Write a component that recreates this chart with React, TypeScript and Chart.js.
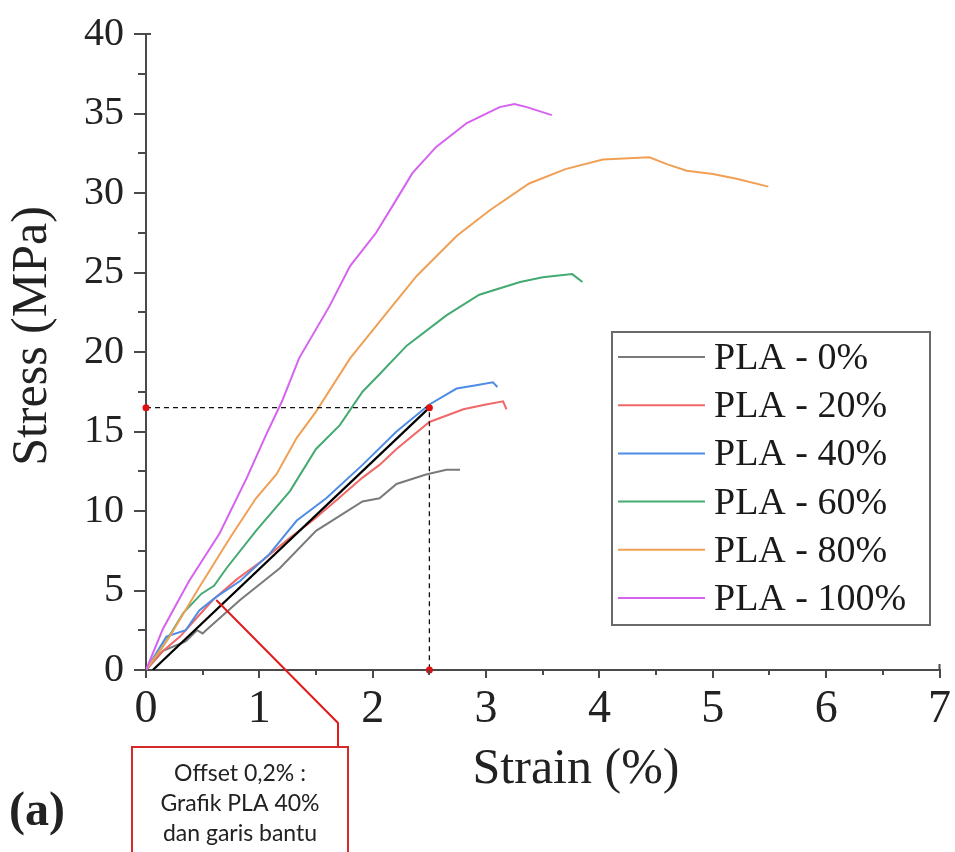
import React, { useEffect, useRef } from "react";
import { Chart, registerables } from "chart.js";

Chart.register(...registerables);

// ---------- data (strain %, stress MPa) ----------
const seriesLabels = ["PLA - 0%", "PLA - 20%", "PLA - 40%", "PLA - 60%", "PLA - 80%", "PLA - 100%"];
const seriesColors = ["#7a7a7a", "#f06868", "#4f8ce6", "#44aa72", "#f0a055", "#d662f0"];

const pla0: [number, number][] = [
  [0, 0], [0.15, 1.2], [0.35, 1.8], [0.45, 2.5], [0.5, 2.3], [0.53, 2.5], [0.83, 4.4], [1.18, 6.4], [1.5, 8.75],
  [1.91, 10.6], [2.06, 10.8], [2.21, 11.7], [2.47, 12.3], [2.65, 12.6], [2.77, 12.6],
];
const pla20: [number, number][] = [
  [0, 0], [0.15, 1.2], [0.3, 2.1], [0.45, 3.3], [0.59, 4.4], [0.8, 5.7], [1.03, 6.9], [1.25, 8.2], [1.47, 9.4],
  [1.7, 10.8], [1.91, 12.1], [2.06, 12.9], [2.21, 13.9], [2.5, 15.6], [2.8, 16.4], [3.0, 16.7], [3.15, 16.9], [3.18, 16.4],
];
const pla40: [number, number][] = [
  [0, 0], [0.18, 2.1], [0.35, 2.5], [0.47, 3.75], [0.62, 4.6], [0.83, 5.6], [1.09, 7.3], [1.33, 9.4], [1.59, 10.8],
  [1.91, 12.9], [2.21, 15.0], [2.5, 16.7], [2.74, 17.7], [2.9, 17.9], [3.06, 18.1], [3.1, 17.8],
];
const pla60: [number, number][] = [
  [0, 0], [0.15, 1.5], [0.33, 3.6], [0.49, 4.8], [0.6, 5.3], [0.71, 6.4], [0.97, 8.75], [1.27, 11.25], [1.5, 13.9],
  [1.71, 15.4], [1.91, 17.5], [2.06, 18.6], [2.3, 20.4], [2.65, 22.3], [2.94, 23.6], [3.3, 24.4], [3.5, 24.7],
  [3.76, 24.9], [3.85, 24.4],
];
const pla80: [number, number][] = [
  [0, 0], [0.2, 2.0], [0.36, 3.9], [0.47, 5.2], [0.74, 8.3], [0.97, 10.8], [1.15, 12.3], [1.33, 14.6], [1.5, 16.25],
  [1.8, 19.6], [2.15, 22.7], [2.39, 24.8], [2.74, 27.3], [3.03, 28.9], [3.38, 30.6], [3.7, 31.5], [4.03, 32.1],
  [4.44, 32.25], [4.6, 31.8], [4.77, 31.4], [5.0, 31.2], [5.21, 30.9], [5.49, 30.4],
];
const pla100: [number, number][] = [
  [0, 0], [0.15, 2.6], [0.38, 5.6], [0.65, 8.6], [0.89, 12.1], [1.06, 14.8], [1.2, 16.9], [1.35, 19.6], [1.62, 22.9],
  [1.8, 25.4], [2.03, 27.5], [2.21, 29.6], [2.35, 31.25], [2.56, 32.9], [2.83, 34.4], [3.12, 35.4], [3.25, 35.6],
  [3.36, 35.4], [3.58, 34.9],
];
const seriesData = [pla0, pla20, pla40, pla60, pla80, pla100];

// offset (0.2%) helper line and yield-point guides
const offsetLine: [number, number][] = [[0.06, 0], [2.5, 16.5]];
const guideLines: [number, number][] = [[0, 16.5], [2.5, 16.5], [2.5, 0]];
const guidePoints: [number, number][] = [[0, 16.5], [2.5, 16.5], [2.5, 0]];
const calloutAnchor: [number, number] = [0.62, 4.4];

// axes
const xMin = 0, xMax = 7, xStep = 1;
const yMin = 0, yMax = 40, yStep = 5;
const xMinorTicks = [0.5, 1.5, 2.5, 3.5, 4.5, 5.5, 6.5];
const yMinorTicks = [2.5, 7.5, 12.5, 17.5, 22.5, 27.5, 32.5, 37.5];
const xTitle = "Strain (%)";
const yTitle = "Stress (MPa)";
const panelLabel = "(a)";
const noteLines = ["Offset 0,2% :", "Grafik PLA 40%", "dan garis bantu"];

const AXIS_COLOR = "#4a4a4a";
const SERIF = "'Liberation Serif', 'Times New Roman', serif";

const toXY = (arr: [number, number][]) => arr.map(([x, y]) => ({ x, y }));

const decorPlugin = {
  id: "decor",
  afterDraw(chart: any) {
    const { ctx, chartArea: ca } = chart;
    const xs = chart.scales.x;
    const ys = chart.scales.y;
    ctx.save();

    // minor ticks
    ctx.strokeStyle = AXIS_COLOR;
    ctx.lineWidth = 2;
    for (const v of yMinorTicks) {
      const py = Math.round(ys.getPixelForValue(v));
      ctx.beginPath();
      ctx.moveTo(ca.left, py);
      ctx.lineTo(ca.left - 8, py);
      ctx.stroke();
    }
    for (const v of xMinorTicks) {
      const px = Math.round(xs.getPixelForValue(v));
      ctx.beginPath();
      ctx.moveTo(px, ca.bottom);
      ctx.lineTo(px, ca.bottom + 5);
      ctx.stroke();
    }
    // axis end hooks
    ctx.beginPath();
    ctx.moveTo(ca.left, ca.top);
    ctx.lineTo(ca.left + 5, ca.top);
    ctx.stroke();
    ctx.beginPath();
    ctx.moveTo(ca.right, ca.bottom);
    ctx.lineTo(ca.right, ca.bottom - 6);
    ctx.stroke();

    // axis titles
    ctx.fillStyle = "#222";
    ctx.font = `50px ${SERIF}`;
    ctx.textAlign = "center";
    ctx.textBaseline = "middle";
    ctx.fillText(xTitle, 576, 770);
    ctx.save();
    ctx.translate(33, 336);
    ctx.rotate(-Math.PI / 2);
    ctx.fillText(yTitle, 0, 0);
    ctx.restore();

    ctx.font = `bold 48px ${SERIF}`;
    ctx.fillText(panelLabel, 37, 813);

    // legend
    const lx = 612, ly = 332, lw = 318, lh = 293;
    ctx.fillStyle = "#fff";
    ctx.fillRect(lx, ly, lw, lh);
    ctx.strokeStyle = "#6a6a6a";
    ctx.lineWidth = 2;
    ctx.strokeRect(lx, ly, lw, lh);
    ctx.font = `38px ${SERIF}`;
    ctx.textAlign = "left";
    ctx.textBaseline = "middle";
    seriesLabels.forEach((label, i) => {
      const cy = 357 + i * 48.2;
      ctx.strokeStyle = seriesColors[i];
      ctx.lineWidth = 2;
      ctx.beginPath();
      ctx.moveTo(618, cy);
      ctx.lineTo(705, cy);
      ctx.stroke();
      ctx.fillStyle = "#1a1a1a";
      ctx.fillText(label, 714, cy + 2);
    });

    // callout
    const ax = xs.getPixelForValue(calloutAnchor[0]);
    const ay = ys.getPixelForValue(calloutAnchor[1]);
    ctx.strokeStyle = "#e01b1b";
    ctx.lineWidth = 2;
    ctx.beginPath();
    ctx.moveTo(ax, ay);
    ctx.lineTo(338, 723);
    ctx.lineTo(338, 747);
    ctx.stroke();
    ctx.strokeStyle = "#d42a2a";
    ctx.strokeRect(132, 747, 216, 120);
    ctx.fillStyle = "#222";
    ctx.font = "23px Lato, 'Open Sans', sans-serif";
    ctx.textAlign = "center";
    ctx.textBaseline = "middle";
    noteLines.forEach((t, i) => ctx.fillText(t, 240, 774 + i * 30));

    ctx.restore();
  },
};

export default function App() {
  const canvasRef = useRef<HTMLCanvasElement | null>(null);

  useEffect(() => {
    if (!canvasRef.current) return;
    const datasets: any[] = [
      {
        label: "guide-points",
        type: "scatter",
        data: toXY(guidePoints),
        pointRadius: 3.5,
        pointBackgroundColor: "#e01010",
        pointBorderWidth: 0,
        showLine: false,
        clip: false,
        order: 0,
      },
      {
        label: "guide-lines",
        data: toXY(guideLines),
        borderColor: "#111",
        borderWidth: 1.3,
        borderDash: [5, 4],
        pointRadius: 0,
        clip: false,
        order: 1,
      },
      {
        label: "offset",
        data: toXY(offsetLine),
        borderColor: "#000",
        borderWidth: 2.2,
        pointRadius: 0,
        order: 2,
      },
      ...seriesData.map((d, i) => ({
        label: seriesLabels[i],
        data: toXY(d),
        borderColor: seriesColors[i],
        borderWidth: 2,
        pointRadius: 0,
        tension: 0,
        order: 10 - i,
      })),
    ];

    const chart = new Chart(canvasRef.current, {
      type: "line",
      data: { datasets },
      options: {
        responsive: false,
        animation: false,
        parsing: true,
        layout: { padding: { top: 30, right: 15, left: 0, bottom: 0 } },
        plugins: { legend: { display: false }, tooltip: { enabled: false } },
        scales: {
          x: {
            type: "linear",
            min: xMin,
            max: xMax,
            afterFit: (s: any) => { s.height = 182; },
            ticks: {
              stepSize: xStep,
              font: { family: SERIF, size: 46 },
              color: "#222",
              padding: 4,
              maxRotation: 0,
            },
            grid: {
              display: true,
              drawOnChartArea: false,
              drawTicks: true,
              tickLength: 8,
              color: AXIS_COLOR,
              lineWidth: 2,
            },
            border: { display: true, color: AXIS_COLOR, width: 2 },
          },
          y: {
            type: "linear",
            min: yMin,
            max: yMax,
            afterFit: (s: any) => { s.width = 146; },
            ticks: {
              stepSize: yStep,
              font: { family: SERIF, size: 40 },
              color: "#222",
              padding: 10,
            },
            grid: {
              display: true,
              drawOnChartArea: false,
              drawTicks: true,
              tickLength: 12,
              color: AXIS_COLOR,
              lineWidth: 2,
            },
            border: { display: true, color: AXIS_COLOR, width: 2 },
          },
        },
      },
      plugins: [decorPlugin],
    } as any);

    return () => chart.destroy();
  }, []);

  return (
    <div style={{ position: "fixed", left: 0, top: 0, width: 955, height: 852, background: "#fff" }}>
      <canvas ref={canvasRef} width={955} height={852} style={{ display: "block" }} />
    </div>
  );
}
